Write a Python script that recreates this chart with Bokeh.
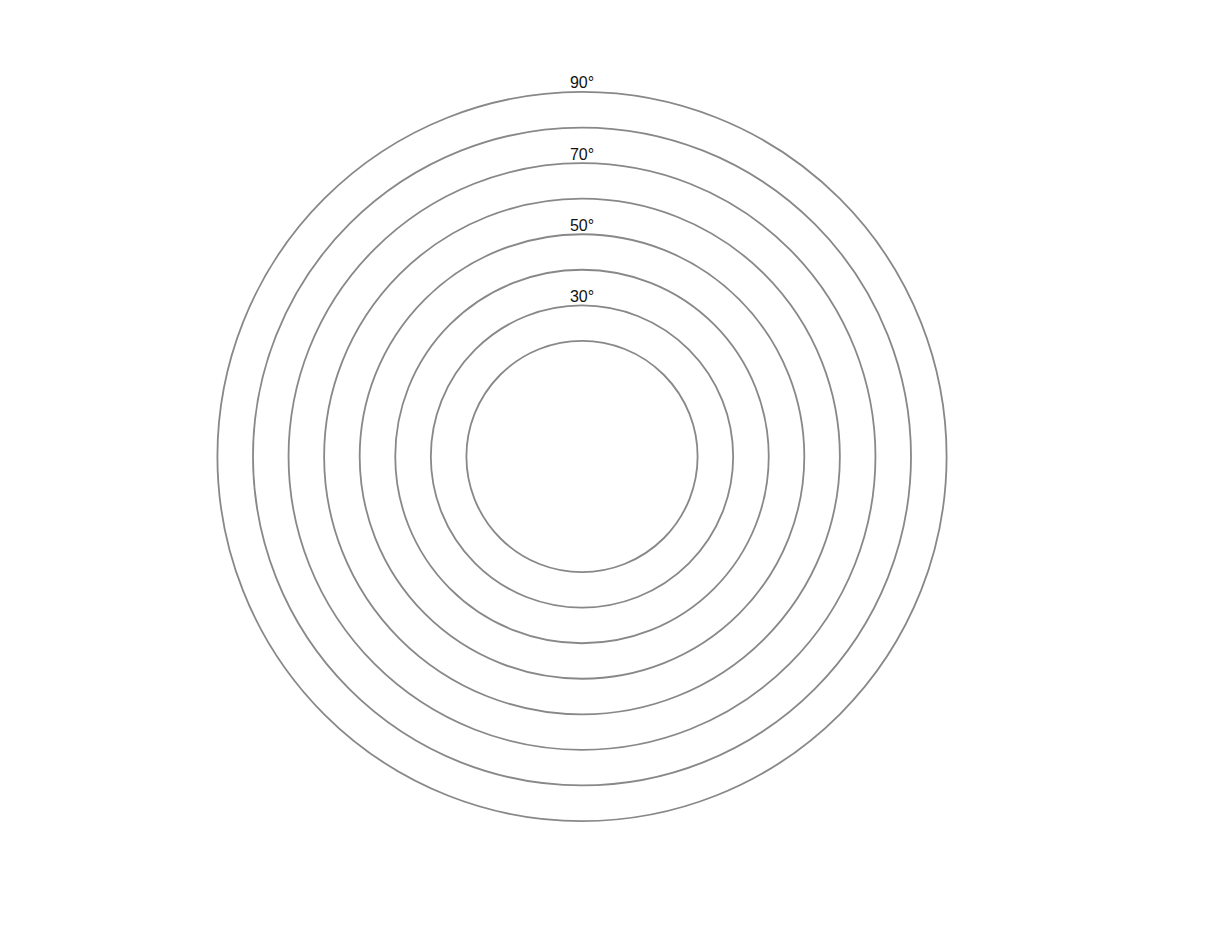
from bokeh.plotting import figure
from bokeh.models import Range1d, ColumnDataSource
from bokeh.core.properties import value
from bokeh.embed import file_html
from bokeh.resources import INLINE

# Data: concentric latitude-style rings (degrees)
ring_degrees = [20, 30, 40, 50, 60, 70, 80, 90]
label_degrees = [30, 50, 70, 90]
label_texts = ["30°", "50°", "70°", "90°"]

# radial scale: degrees -> radius (data units), domain starts at -12.5
DOMAIN_START = -12.5
PX_PER_UNIT = 3.557

W, H = 1192, 918
CX, CY = 581.5, 456.0  # centre of rings in figure pixels (from top-left)

def radial(d):
    return d - DOMAIN_START

p = figure(width=W, height=H, output_backend="svg", toolbar_location=None,
           x_range=Range1d(-CX / PX_PER_UNIT, (W - CX) / PX_PER_UNIT),
           y_range=Range1d(-(H - CY) / PX_PER_UNIT, CY / PX_PER_UNIT),
           min_border=0)
p.axis.visible = False
p.grid.visible = False
p.outline_line_color = None
p.background_fill_color = "white"
p.border_fill_color = "white"

rings = ColumnDataSource(dict(x=[0] * len(ring_degrees), y=[0] * len(ring_degrees),
                              r=[radial(d) for d in ring_degrees]))
p.circle(x="x", y="y", radius="r", source=rings, fill_color=None,
         line_color="#888888", line_width=1.8)

labels = ColumnDataSource(dict(x=[0] * len(label_degrees),
                               y=[radial(d) + 0.5 / PX_PER_UNIT for d in label_degrees],
                               t=label_texts))
p.text(x="x", y="y", text="t", source=labels, text_align="center",
       text_baseline="bottom", text_font=value("Liberation Sans"),
       text_font_size="16px", text_color="#111111")

open("out.html", "w").write(file_html(p, INLINE))
